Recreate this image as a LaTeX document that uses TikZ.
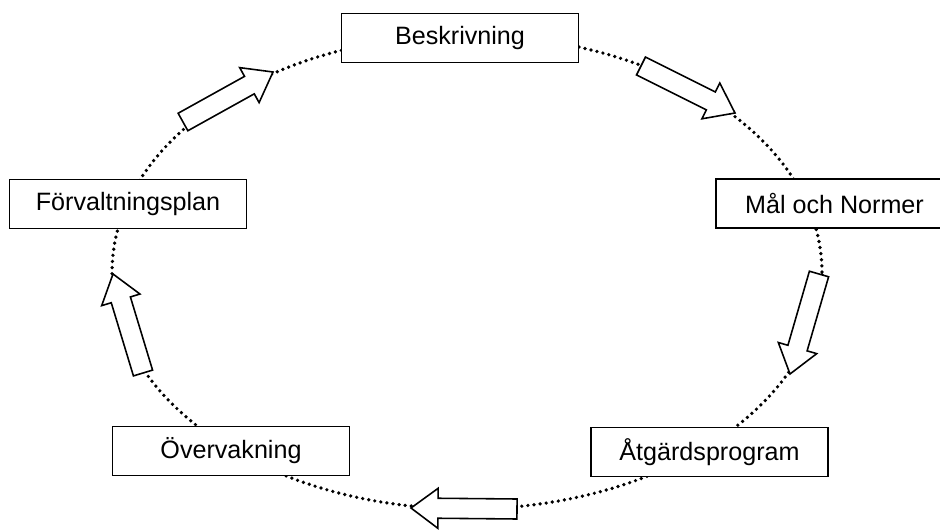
\documentclass[tikz,border=0pt]{standalone}
\usepackage{fontspec}
\setmainfont{Liberation Sans}
\usetikzlibrary{calc}

\begin{document}
\begin{tikzpicture}[
    % 定義樣式
    x=0.02cm, y=-0.02cm,
    stage/.style={draw=black, line width=0.9pt, fill=white, inner sep=0pt,
        minimum width=4.74cm, minimum height=0.98cm,
        font=\fontsize{14.3pt}{16pt}\selectfont},
    dotted ring/.style={line width=2.1pt, dash pattern=on 0pt off 3.5pt, line cap=round},
    block arrow/.style={draw=black, line width=0.9pt, fill=white, line join=miter}
]

    \useasboundingbox (0,0) rectangle (940,530);

    % --- 1. 虛線橢圓 (Cycle) ---
    \draw[dotted ring] (467,272) ellipse [x radius=7.1cm, y radius=4.74cm];

    % --- 2. 空心箭頭 (Block arrows) ---
    \coordinate (ul-t) at (183,122);  \coordinate (ul-h) at (273,72);
    \coordinate (ur-t) at (641,66);   \coordinate (ur-h) at (735,113);
    \coordinate (r-t)  at (819,274);  \coordinate (r-h)  at (790,374);
    \coordinate (b-t)  at (517,509);  \coordinate (b-h)  at (411,508);
    \coordinate (l-t)  at (143,373);  \coordinate (l-h)  at (113,274);

    \foreach \tail/\tip in {ul-t/ul-h, ur-t/ur-h, r-t/r-h, b-t/b-h, l-t/l-h} {
        \coordinate (hb) at ($(\tip)!5.4mm!(\tail)$);
        \draw[block arrow]
            ($(\tail)!2mm!90:(\tip)$) -- ($(hb)!2mm!90:(\tip)$)
            -- ($(hb)!4mm!90:(\tip)$) -- (\tip)
            -- ($(hb)!4mm!-90:(\tip)$) -- ($(hb)!2mm!-90:(\tip)$)
            -- ($(\tail)!2mm!-90:(\tip)$) -- cycle;
    }

    % --- 3. 各階段方框 (Stages) ---
    \node[stage] (beskrivning) at (460,38) {Beskrivning};
    \node[stage] (mal) at (834.5,203.5) {Mål och Normer};
    \node[stage] (atgard) at (709.5,452) {Åtgärdsprogram};
    \node[stage] (overvakning) at (231,451) {Övervakning};
    \node[stage] (forvaltning) at (128,204) {Förvaltningsplan};

\end{tikzpicture}
\end{document}
